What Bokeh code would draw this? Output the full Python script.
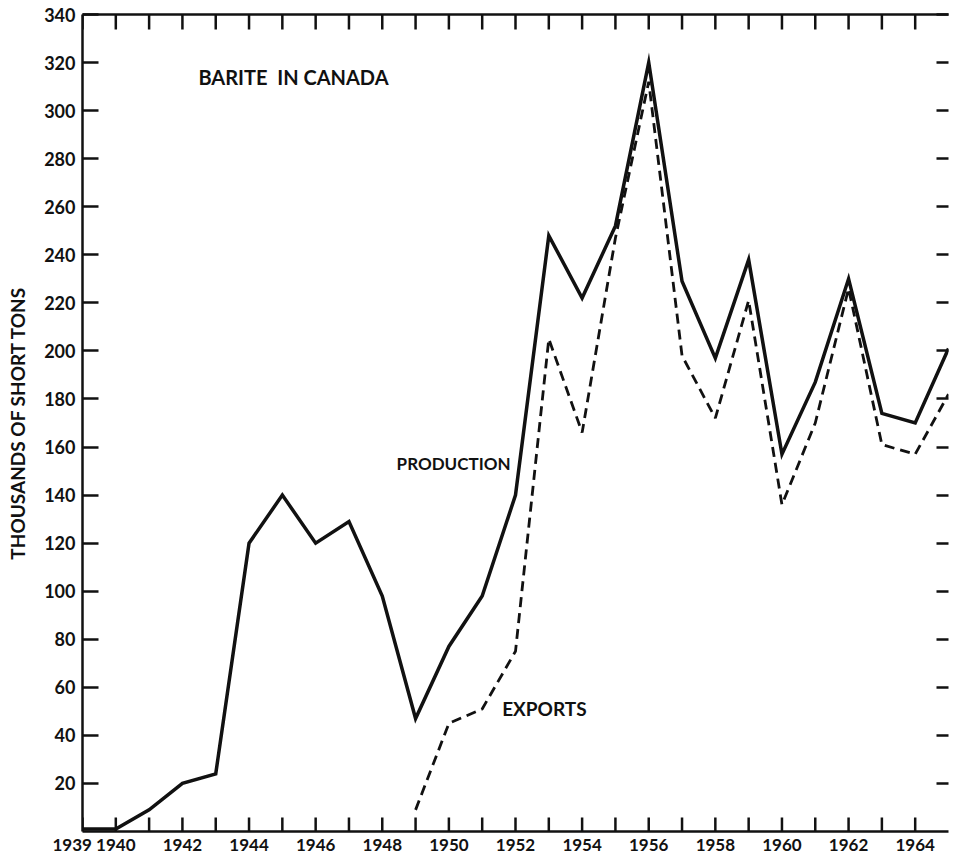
import numpy as np
from bokeh.plotting import figure
from bokeh.models import Range1d, LinearAxis, FixedTicker, Label
from bokeh.embed import file_html
from bokeh.resources import INLINE

# ---- data (thousands of short tons) ----
years = list(range(1939, 1966))
production = [1, 1, 9, 20, 24, 120, 140, 120, 129, 98, 47, 77, 98, 140,
              248, 222, 252, 320, 229, 197, 238, 157, 187, 230, 174, 170, 201]
export_years = list(range(1949, 1966))
exports = [9, 45, 51, 75, 205, 166, 247, 312, 198, 172, 221, 136, 170, 226,
           161, 157, 182]

y_ticks = list(range(20, 341, 20))
x_ticks = list(range(1939, 1965))
x_labelled = [1939, 1940] + list(range(1942, 1965, 2))

Y_MIN, Y_MAX = 0, 340
X_MIN, X_MAX = 1939, 1965

FONT = "Lato"
INK = "#111111"
NBSP = "\u00a0"

p = figure(width=950, height=857,
           x_range=Range1d(X_MIN, X_MAX), y_range=Range1d(Y_MIN, Y_MAX),
           output_backend="svg", toolbar_location=None)
p.min_border_left = 82
p.min_border_right = 2
p.min_border_top = 14
p.min_border_bottom = 20
p.outline_line_color = None
p.background_fill_color = "white"
p.border_fill_color = "white"
p.grid.visible = False
p.xaxis.visible = False
p.yaxis.visible = False


def style(ax, tick_in, size="18px"):
    ax.axis_line_color = INK
    ax.axis_line_width = 2.5
    ax.major_tick_line_color = INK
    ax.major_tick_line_width = 2.5
    ax.major_tick_in = tick_in
    ax.major_tick_out = 0
    ax.minor_tick_line_color = None
    ax.major_label_text_font = FONT
    ax.major_label_text_font_style = "bold"
    ax.major_label_text_font_size = size
    ax.major_label_text_color = INK


def blank_labels(ax, ticks):
    ax.major_label_overrides = {t: "" for t in ticks}
    ax.major_label_text_font_size = "1px"
    ax.major_label_standoff = 0


left = LinearAxis(ticker=FixedTicker(ticks=y_ticks),
                  axis_label="THOUSANDS OF SHORT TONS")
style(left, 16)
left.major_label_standoff = 7
left.axis_label_text_font = FONT
left.axis_label_text_font_style = "bold"
left.axis_label_text_font_size = "19px"
left.axis_label_text_color = INK
left.axis_label_standoff = 12
p.add_layout(left, "left")

right = LinearAxis(ticker=FixedTicker(ticks=y_ticks))
style(right, 12)
right.axis_line_color = None
blank_labels(right, y_ticks)
p.add_layout(right, "right")

overrides = {}
for y in x_ticks:
    if y == 1939:
        overrides[y] = "1939" + NBSP * 5
    elif y in x_labelled:
        overrides[y] = str(y)
    else:
        overrides[y] = ""
bottom = LinearAxis(ticker=FixedTicker(ticks=x_ticks),
                    major_label_overrides=overrides)
style(bottom, 14, "17px")
bottom.major_tick_line_color = None
bottom.major_label_standoff = 2
p.add_layout(bottom, "below")

top = LinearAxis(ticker=FixedTicker(ticks=x_ticks))
style(top, 15)
top.major_tick_line_color = None
blank_labels(top, x_ticks)
p.add_layout(top, "above")

# year ticks along the bottom and top edges (vertical dash markers, half clipped by the frame)
p.scatter(x_ticks, [Y_MIN] * len(x_ticks), marker="dash", angle=np.pi / 2,
          size=28, line_color=INK, line_width=2.5)
p.scatter(x_ticks, [Y_MAX] * len(x_ticks), marker="dash", angle=np.pi / 2,
          size=30, line_color=INK, line_width=2.5)

# ---- series ----
p.line(years, production, line_width=3.5, line_color=INK, line_join="miter")
p.line(export_years, exports, line_width=2.8, line_color=INK, line_dash="10 6")

# ---- annotations ----
p.add_layout(Label(x=1942.48, y=313.8, text="BARITE" + NBSP * 2 + "IN" + NBSP + "CANADA",
                   text_font=FONT, text_font_size="20px", text_color=INK,
                   text_font_style="bold", text_baseline="alphabetic"))
p.add_layout(Label(x=1951.85, y=153, text="PRODUCTION", text_align="right",
                   text_font=FONT, text_font_size="17px", text_color=INK,
                   text_font_style="bold", text_baseline="alphabetic"))
p.add_layout(Label(x=1951.6, y=51, text="EXPORTS",
                   text_font=FONT, text_font_size="19px", text_color=INK,
                   text_font_style="bold", text_baseline="alphabetic"))

open("out.html", "w").write(file_html(p, INLINE))
